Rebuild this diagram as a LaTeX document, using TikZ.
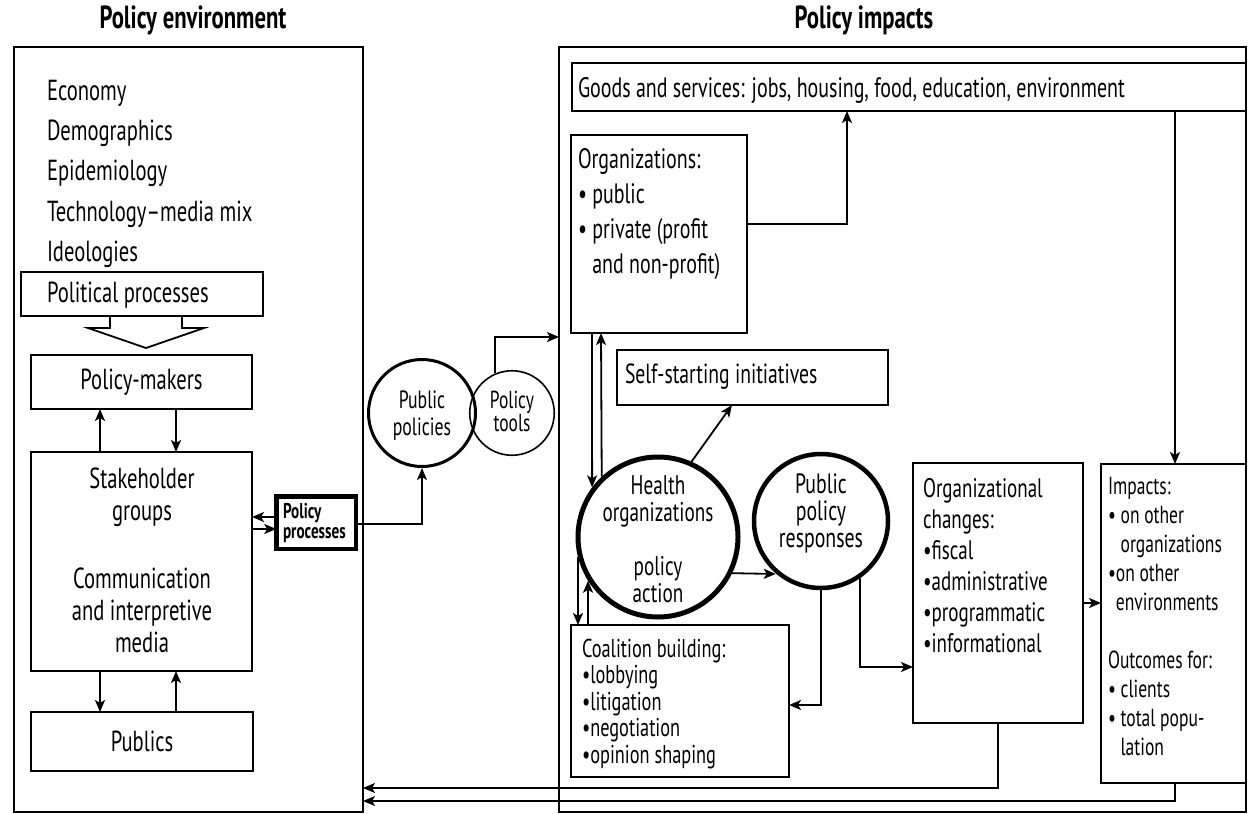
\documentclass[tikz,border=0pt]{standalone}
\usepackage{fontspec}
\setmainfont[FakeStretch=0.71]{PT Sans}
\usetikzlibrary{arrows.meta,calc}
\begin{document}
\begin{tikzpicture}[x=1pt,y=-1pt,
  ln/.style={line width=1.8pt},
  arr/.style={ln,-{Stealth[length=12pt,width=10pt,inset=3pt]}},
  box/.style={draw,ln,rectangle,inner sep=0pt,outer sep=0pt},
  txt/.style={inner sep=0pt,outer sep=0pt,align=left,anchor=base west},
  ctxt/.style={inner sep=0pt,outer sep=0pt,align=center,anchor=base},
  fbig/.style={font=\fontsize{29}{40}\selectfont},
  head/.style={inner sep=0pt,font=\bfseries\fontsize{32}{34}\selectfont},
  ring/.style={circle,draw,inner sep=0pt},
]
\useasboundingbox (0,0) rectangle (1248,814);

% headings
\node[head] (hEnv) at (193,20) {Policy environment};
\node[head] (hImp) at (864,20) {Policy impacts};

% the two frames
\node[box,minimum width=349,minimum height=765,anchor=north west] (envFrame) at (14,47) {};
\node[box,minimum width=687,minimum height=765,anchor=north west] (impFrame) at (559,47) {};

% ---------------- policy environment ----------------
\node[box,minimum width=242,minimum height=44,anchor=north west] (polbox) at (21,272) {};
\node[txt,font=\fontsize{29}{40.4}\selectfont] (factors) at (47,302)
  {Economy\\Demographics\\Epidemiology\\Technology–media mix\\Ideologies\\Political processes};
% block arrow below the political processes box
\draw[ln,line join=miter] (110,316) -- (110,328) -- (88,328) -- (146,348) -- (204,328) -- (182,328) -- (182,316);

\node[box,fbig,minimum width=221,minimum height=54,anchor=north west] (pm) at (31,355) {Policy-makers};
\node[box,minimum width=221,minimum height=219,anchor=north west] (sh) at (31,452) {};
\node[ctxt,font=\fontsize{29}{32}\selectfont] (shText) at (142,652)
  {Stakeholder\\groups\\[36pt]Communication\\and interpretive\\media};
\node[box,fbig,minimum width=222,minimum height=59,anchor=north west] (pub) at (31,712) {Publics};

\draw[arr] ($(sh.north west)+(69,0)$) -- ($(pm.south west)+(69,0)$);
\draw[arr] ($(pm.south west)+(145,0)$) -- ($(sh.north west)+(145,0)$);
\draw[arr] ($(sh.south west)+(69,0)$) -- ($(pub.north west)+(69,0)$);
\draw[arr] ($(pub.north west)+(145,0)$) -- ($(sh.south west)+(145,0)$);

% policy processes
\node[draw,line width=4.5pt,minimum width=79.5,minimum height=52.5,inner sep=0pt,outer sep=0pt] (pp) at (316,522.5) {};
\node[txt,font=\bfseries\fontsize{21.4}{20}\selectfont] (ppText) at (283,538) {Policy\\processes};
\draw[arr] ($(pp.west)+(0,-5.5)$) -- ($(sh.north east)+(0,65)$);
\draw[arr] ($(sh.north east)+(0,77)$) -- ($(pp.west)+(0,6.5)$);

% public policies and tools
\node[ring,line width=3pt,minimum size=107] (pubpol) at (422,413) {};
\node[ring,line width=1.6pt,minimum size=84.5] (tools) at (512,413) {};
\node[ctxt,font=\fontsize{25}{27}\selectfont] (pubpolText) at (422,435) {Public\\policies};
\node[ctxt,font=\fontsize{24.6}{23}\selectfont] (toolsText) at (512,431) {Policy\\tools};
\draw[arr] ($(pp.east)+(0,1.5)$) -| (pubpol.south);
\draw[arr] (tools.113) |- ($(impFrame.north west)+(0,290)$);

% ---------------- policy impacts ----------------
\node[box,minimum width=674,minimum height=48,anchor=north west] (goods) at (572,63) {};
\node[txt,font=\fontsize{28.1}{30}\selectfont] (goodsText) at (578,97) {Goods and services: jobs, housing, food, education, environment};

\node[box,minimum width=176,minimum height=198,anchor=north west] (orgs) at (571,135) {};
\node[txt,font=\fontsize{28.1}{35}\selectfont] (orgsText) at (578,273)
  {Organizations:\\\textbullet\ public\\\textbullet\ private (profit\\\phantom{\textbullet\ }and non-profit)};
\draw[arr] ($(orgs.north east)+(0,89)$) -| ($(goods.south west)+(275,0)$);

\node[box,minimum width=271,minimum height=55,anchor=north west] (self) at (617,350) {};
\node[txt,font=\fontsize{27.7}{30}\selectfont] (selfText) at (625,383) {Self-starting initiatives};

% health organizations and public policy responses
\node[ring,line width=5pt,minimum size=160] (health) at (658,537) {};
\node[ctxt,font=\fontsize{27}{27}\selectfont] (healthText) at (658,602)
  {Health\\organizations\\[27pt]policy\\action};
\node[ring,line width=4.5pt,minimum size=134] (ppr) at (821,521) {};
\node[ctxt,font=\fontsize{27.9}{27}\selectfont] (pprText) at (821,547)
  {Public\\policy\\responses};

\draw[arr] ($(orgs.south west)+(21,0)$) -- (health.143);
\draw[arr] (health.133.7) -- ($(orgs.south west)+(30,0)$);
\draw[arr] (health.66) -- ($(self.south west)+(115,0)$);
\draw[arr] (health.-26.7) -- ($(ppr.west)+(24,53)$);

\node[box,minimum width=218,minimum height=152,anchor=north west] (coal) at (571,625) {};
\node[txt,font=\fontsize{25.8}{26.5}\selectfont] (coalText) at (582,763)
  {Coalition building:\\\textbullet lobbying\\\textbullet litigation\\\textbullet negotiation\\\textbullet opinion shaping};
\draw[arr] (health.194) -- ($(coal.north west)+(7,0)$);
\draw[arr] ($(coal.north west)+(17,0)$) -- (health.212);
\draw[arr] (ppr.south) |- ($(coal.north east)+(0,80)$);

\node[box,minimum width=170,minimum height=260,anchor=north west] (chg) at (913,463) {};
\node[txt,font=\fontsize{26.8}{31}\selectfont] (chgText) at (923,652)
  {Organizational\\changes:\\\textbullet fiscal\\\textbullet administrative\\\textbullet programmatic\\\textbullet informational};
\draw[arr] (ppr.-56.6) |- ($(chg.north west)+(0,204)$);

\node[box,minimum width=145,minimum height=319,anchor=north west] (imp) at (1101,464) {};
\node[txt,font=\fontsize{24.7}{28.9}\selectfont] (impText) at (1108,755)
  {Impacts:\\\textbullet\ on other\\\phantom{\textbullet\ }organizations\\\textbullet on other\\\phantom{\textbullet}environments\\[28.9pt]Outcomes for:\\\textbullet\ clients\\\textbullet\ total popu-\\\phantom{\textbullet\ }lation};
\draw[arr] ($(chg.north east)+(0,140)$) -- ($(imp.north west)+(0,139)$);
\draw[arr] ($(goods.south west)+(603,0)$) -- ($(imp.north west)+(74,0)$);

% feedback to the policy environment
\draw[arr] (chg.south) |- ($(envFrame.south east)+(0,-24)$);
\draw[arr] ($(imp.south west)+(74,0)$) |- ($(envFrame.south east)+(0,-11)$);
\end{tikzpicture}
\end{document}
